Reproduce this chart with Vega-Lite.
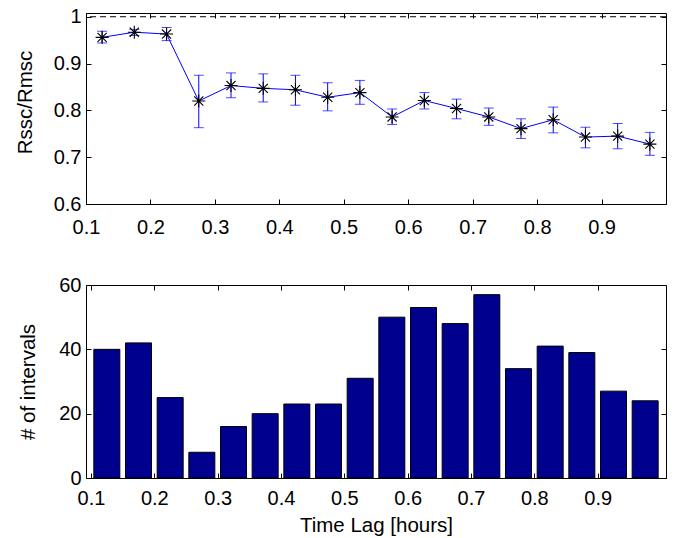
{
  "$schema": "https://vega.github.io/schema/vega-lite/v6.json",
  "padding": {"left": 14, "top": 6, "right": 5, "bottom": 5},
  "background": "white",
  "spacing": 81,
  "bounds": "flush",
  "config": {
    "font": "Liberation Sans",
    "view": {"stroke": "black", "strokeWidth": 1},
    "axis": {
      "domain": false, "grid": false, "tickSize": -5, "tickColor": "black", "tickWidth": 1,
      "labelColor": "black", "labelFontSize": 20, "labelFont": "Liberation Sans",
      "labelFlush": false, "labelOverlap": false,
      "titleFont": "Liberation Sans", "titleFontSize": 20.5, "titleFontWeight": "normal", "titleColor": "black"
    }
  },
  "vconcat": [
    {
      "width": 580,
      "height": 191,
      "data": {"values": [
        {"lag": 0.125, "ratio": 0.956, "lo": 0.944, "hi": 0.969},
        {"lag": 0.175, "ratio": 0.967, "lo": 0.960, "hi": 0.973},
        {"lag": 0.225, "ratio": 0.963, "lo": 0.949, "hi": 0.977},
        {"lag": 0.275, "ratio": 0.820, "lo": 0.763, "hi": 0.875},
        {"lag": 0.325, "ratio": 0.853, "lo": 0.827, "hi": 0.880},
        {"lag": 0.375, "ratio": 0.847, "lo": 0.818, "hi": 0.878},
        {"lag": 0.425, "ratio": 0.844, "lo": 0.811, "hi": 0.875},
        {"lag": 0.475, "ratio": 0.828, "lo": 0.799, "hi": 0.859},
        {"lag": 0.525, "ratio": 0.838, "lo": 0.813, "hi": 0.864},
        {"lag": 0.575, "ratio": 0.786, "lo": 0.770, "hi": 0.803},
        {"lag": 0.625, "ratio": 0.821, "lo": 0.803, "hi": 0.838},
        {"lag": 0.675, "ratio": 0.804, "lo": 0.782, "hi": 0.824},
        {"lag": 0.725, "ratio": 0.786, "lo": 0.768, "hi": 0.805},
        {"lag": 0.775, "ratio": 0.761, "lo": 0.740, "hi": 0.782},
        {"lag": 0.825, "ratio": 0.780, "lo": 0.752, "hi": 0.807},
        {"lag": 0.875, "ratio": 0.743, "lo": 0.720, "hi": 0.764},
        {"lag": 0.925, "ratio": 0.745, "lo": 0.718, "hi": 0.772},
        {"lag": 0.975, "ratio": 0.728, "lo": 0.704, "hi": 0.753}
      ]},
      "layer": [
        {
          "data": {"values": [{"ref": 1}]},
          "mark": {"type": "rule", "color": "black", "strokeDash": [6, 4], "strokeWidth": 1},
          "encoding": {"y": {"field": "ref", "type": "quantitative", "scale": {"domain": [0.6, 1.008], "nice": false, "zero": false}, "axis": null}}
        },
        {
          "mark": {"type": "errorbar", "color": "#0000ff", "thickness": 1, "ticks": {"size": 10}},
          "encoding": {
            "x": {"field": "lag", "type": "quantitative", "scale": {"domain": [0.1, 1.0], "nice": false, "zero": false}, "axis": null},
            "y": {"field": "lo", "type": "quantitative", "scale": {"domain": [0.6, 1.008], "nice": false, "zero": false}, "axis": null},
            "y2": {"field": "hi"}
          }
        },
        {
          "mark": {"type": "line", "color": "#0000ff", "strokeWidth": 1},
          "encoding": {
            "x": {"field": "lag", "type": "quantitative", "scale": {"domain": [0.1, 1.0], "nice": false, "zero": false},
                  "axis": {"values": [0.1, 0.2, 0.3, 0.4, 0.5, 0.6, 0.7, 0.8, 0.9], "format": ".1f", "labelPadding": 18, "title": null}},
            "y": {"field": "ratio", "type": "quantitative", "scale": {"domain": [0.6, 1.008], "nice": false, "zero": false},
                  "axis": {"values": [0.6, 0.7, 0.8, 0.9, 1], "format": ".1~f", "labelPadding": 10, "title": "Rssc/Rmsc",
                           "titleX": -61, "titleY": 89, "titleBaseline": "middle", "titleAngle": 270}}
          }
        },
        {
          "mark": {"type": "point", "shape": "M-1,0H1M0,-1V1M-0.7,-0.7L0.7,0.7M-0.7,0.7L0.7,-0.7", "size": 170, "filled": false, "color": "black", "strokeWidth": 1.1, "opacity": 1},
          "encoding": {
            "x": {"field": "lag", "type": "quantitative", "scale": {"domain": [0.1, 1.0], "nice": false, "zero": false}, "axis": null},
            "y": {"field": "ratio", "type": "quantitative", "scale": {"domain": [0.6, 1.008], "nice": false, "zero": false}, "axis": null}
          }
        },
        {
          "mark": {"type": "point", "shape": "circle", "size": 8, "filled": true, "color": "black", "opacity": 1},
          "encoding": {
            "x": {"field": "lag", "type": "quantitative", "scale": {"domain": [0.1, 1.0], "nice": false, "zero": false}, "axis": null},
            "y": {"field": "ratio", "type": "quantitative", "scale": {"domain": [0.6, 1.008], "nice": false, "zero": false}, "axis": null}
          }
        },
        {
          "mark": {"type": "point", "opacity": 0},
          "encoding": {
            "x": {"field": "lag", "type": "quantitative", "scale": {"domain": [0.1, 1.0], "nice": false, "zero": false},
                  "axis": {"orient": "top", "labels": false, "values": [0.1, 0.2, 0.3, 0.4, 0.5, 0.6, 0.7, 0.8, 0.9], "title": null}},
            "y": {"field": "ratio", "type": "quantitative", "scale": {"domain": [0.6, 1.008], "nice": false, "zero": false},
                  "axis": {"orient": "right", "labels": false, "values": [0.6, 0.7, 0.8, 0.9, 1], "title": null}}
          }
        }
      ],
      "resolve": {"axis": {"x": "independent", "y": "independent"}}
    },
    {
      "width": 580,
      "height": 193,
      "data": {"values": [
        {"lag": 0.125, "count": 40},
        {"lag": 0.175, "count": 42},
        {"lag": 0.225, "count": 25},
        {"lag": 0.275, "count": 8},
        {"lag": 0.325, "count": 16},
        {"lag": 0.375, "count": 20},
        {"lag": 0.425, "count": 23},
        {"lag": 0.475, "count": 23},
        {"lag": 0.525, "count": 31},
        {"lag": 0.575, "count": 50},
        {"lag": 0.625, "count": 53},
        {"lag": 0.675, "count": 48},
        {"lag": 0.725, "count": 57},
        {"lag": 0.775, "count": 34},
        {"lag": 0.825, "count": 41},
        {"lag": 0.875, "count": 39},
        {"lag": 0.925, "count": 27},
        {"lag": 0.975, "count": 24}
      ]},
      "layer": [
        {
          "mark": {"type": "bar", "width": 26, "color": "#00008f", "stroke": "black", "strokeWidth": 1},
          "encoding": {
            "x": {"field": "lag", "type": "quantitative", "scale": {"domain": [0.1, 1.0], "nice": false, "zero": false},
                  "axis": {"values": [0.1, 0.2, 0.3, 0.4, 0.5, 0.6, 0.7, 0.8, 0.9], "format": ".1f", "labelPadding": 15,
                           "title": "Time Lag [hours]", "titleY": 47, "titleBaseline": "middle"}},
            "y": {"field": "count", "type": "quantitative", "scale": {"domain": [0, 60], "nice": false},
                  "axis": {"values": [0, 20, 40, 60], "labelPadding": 10, "title": "# of intervals",
                           "titleX": -58, "titleBaseline": "middle", "titleAngle": 270}}
          }
        },
        {
          "mark": {"type": "point", "opacity": 0},
          "encoding": {
            "x": {"field": "lag", "type": "quantitative", "scale": {"domain": [0.1, 1.0], "nice": false, "zero": false},
                  "axis": {"orient": "top", "labels": false, "values": [0.1, 0.2, 0.3, 0.4, 0.5, 0.6, 0.7, 0.8, 0.9], "title": null}},
            "y": {"field": "count", "type": "quantitative", "scale": {"domain": [0, 60], "nice": false},
                  "axis": {"orient": "right", "labels": false, "values": [0, 20, 40, 60], "title": null}}
          }
        }
      ],
      "resolve": {"axis": {"x": "independent", "y": "independent"}}
    }
  ]
}
